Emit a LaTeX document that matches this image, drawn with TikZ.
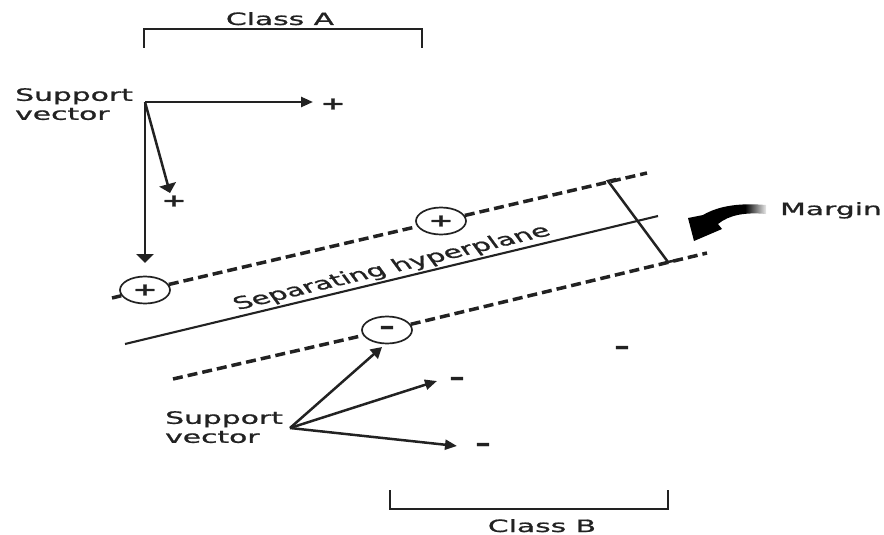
\documentclass[tikz,border=0pt]{standalone}
\usepackage{fontspec}
\setmainfont{DejaVu Sans}
\newfontfamily\medfont{DejaVu Sans}[FakeBold=0.9]
\newfontfamily\signfont{DejaVu Sans Bold}[FakeBold=1.2]
\usetikzlibrary{arrows.meta,shapes.geometric}
\definecolor{ink}{HTML}{222222}
% wide lettering: stretch a word horizontally
\newcommand\stretchtxt[1]{\scalebox{1.75}[1]{#1}}
% heavier, shorter dash for the negative samples
\newcommand\negsign{\fontsize{23}{23}\selectfont\scalebox{1.3}[1]{–}}
\begin{document}
\begin{tikzpicture}[x=1pt,y=-1pt,
  lbl/.style={font=\fontsize{17}{19}\selectfont\medfont, inner sep=0pt, align=left, text=ink},
  sgn/.style={font=\fontsize{17}{17}\selectfont\signfont, inner sep=0pt, text=ink},
  signdot/.style={ellipse, draw=ink, line width=1.7pt, fill=white,
    minimum width=50pt, minimum height=27pt, inner sep=0pt,
    font=\fontsize{17}{17}\selectfont\signfont, text=ink},
  vec/.style={draw=ink, line width=2.5pt, -{Triangle[length=12pt,width=10pt]}},
  vecv/.style={draw=ink, line width=2.5pt, -{Triangle[length=9pt,width=17pt]}},
  vecd/.style={draw=ink, line width=2.5pt, -{Triangle[length=11pt,width=12pt]}},
  marginline/.style={draw=ink, dash pattern=on 10pt off 5pt, line width=3.5pt},
  plane/.style={draw=ink, line width=2.1pt},
  clsbracket/.style={draw=ink, line width=2.8pt},
]
\useasboundingbox (0,0) rectangle (884,535);

% ---- Class A bracket
\coordinate (a1) at (144,48);
\coordinate (a2) at (144,29);
\coordinate (a3) at (422,29);
\coordinate (a4) at (422,48);
\draw[clsbracket] (a1) -- (a2) -- (a3) -- (a4);
\node[lbl, anchor=base] (classA) at (280,25) {\stretchtxt{Class A}};

% ---- Class B bracket
\coordinate (b1) at (390,490);
\coordinate (b2) at (390,509);
\coordinate (b3) at (668,509);
\coordinate (b4) at (668,490);
\draw[clsbracket] (b1) -- (b2) -- (b3) -- (b4);
\node[lbl, anchor=base] (classB) at (542,532) {\stretchtxt{Class B}};

% ---- separating hyperplane and the two margin lines
\coordinate (hL) at (125,344);
\coordinate (hR) at (658,216);
\draw[plane] (hL) -- (hR);

\node[signdot] (cA1) at (145,290) {\stretchtxt{+}};
\node[signdot] (cA2) at (441,221) {\stretchtxt{+}};
\node[signdot] (cB1) at (387,330) {\negsign};

\coordinate (uL) at (112,298);
\coordinate (uR) at (647,173);
\coordinate (lL) at (173,379);
\coordinate (lR) at (707,253);
\draw[marginline] (uL) -- (cA1);
\draw[marginline] (cA1) -- (cA2);
\draw[marginline] (cA2) -- (uR);
\draw[marginline] (lL) -- (cB1);
\draw[marginline] (cB1) -- (lR);

\begin{scope}[shift={(392,268)}, xscale=1.75]
  \node[lbl, rotate=22.8, transform shape] (hyp) at (0,0) {Separating hyperplane};
\end{scope}

% ---- margin width marker
\coordinate (mT) at (608,181);
\coordinate (mB) at (668,262);
\coordinate (mT2) at (616,179);
\coordinate (mB2) at (677,260);
\draw[draw=ink, line width=2.5pt] (mT2) -- (mT) -- (mB) -- (mB2);

% ---- curved pointer to the margin, fading out at its tail
\begin{scope}
  \clip (688,218) -- (703,215) .. controls (720,205) and (742,203) .. (766,205)
        -- (766,214) .. controls (745,212) and (729,215) .. (718,224)
        -- (722,229) -- (694,241) -- cycle;
  \fill[black] (680,195) rectangle (745,245);
  \shade[left color=black, right color=white] (745,195) rectangle (768,245);
\end{scope}
\node[lbl, anchor=base west] (marginlbl) at (780,215) {\stretchtxt{Margin}};

% ---- class A support vectors
\node[lbl, anchor=north west] (svA) at (15,88) {\stretchtxt{Support}\\\stretchtxt{vector}};
\coordinate (oA) at (145,102);
\node[sgn] (pA1) at (333,104) {\stretchtxt{+}};
\node[sgn] (pA2) at (174,201) {\stretchtxt{+}};
\coordinate (tA1) at (313,102);
\coordinate (tA2) at (170,193);
\coordinate (tA3) at (145,263);
\draw[vec] (oA) -- (tA1);
\draw[vecv] (oA) -- (tA2);
\draw[vecv] (oA) -- (tA3);

% ---- class B support vectors
\node[lbl, anchor=north west] (svB) at (165,411) {\stretchtxt{Support}\\\stretchtxt{vector}};
\coordinate (oB) at (290,428);
\node[sgn] (mB1) at (457,381) {\negsign};
\node[sgn] (mB2) at (483,447) {\negsign};
\node[sgn] (mB3) at (622,350) {\negsign};
\coordinate (tB1) at (382,347);
\coordinate (tB2) at (437,381);
\coordinate (tB3) at (457,446);
\draw[vecd] (oB) -- (tB1);
\draw[vec] (oB) -- (tB2);
\draw[vec] (oB) -- (tB3);
\end{tikzpicture}
\end{document}
